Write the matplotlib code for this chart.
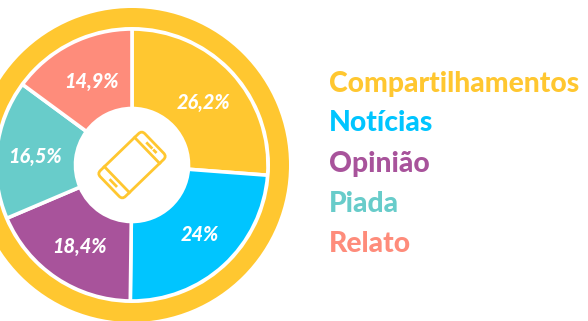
import matplotlib
matplotlib.use("Agg")
import matplotlib.pyplot as plt
import matplotlib.transforms as mtrans
from matplotlib.patches import Wedge, FancyBboxPatch
import numpy as np

categories = ["Compartilhamentos", "Notícias", "Opinião", "Piada", "Relato"]
values = [26.2, 24, 18.4, 16.5, 14.9]
labels = ["26,2%", "24%", "18,4%", "16,5%", "14,9%"]
colors = ["#FFC730", "#00C5FF", "#A8539B", "#68CCCA", "#FE8C7B"]

W, H = 588, 321
cx, cy = 132, H - 165  # pie centre, axes are in pixels
YELLOW = colors[0]

fig = plt.figure(figsize=(W / 100, H / 100), dpi=100)
ax = fig.add_axes([0, 0, 1, 1])

wedges, _ = ax.pie(values, colors=colors, startangle=90, counterclock=False,
                   center=(cx, cy), radius=136, frame=True,
                   wedgeprops=dict(width=79.5, edgecolor="white", linewidth=2.6))

# outer ring
ax.add_patch(Wedge((cx, cy), 157, 0, 360, width=19, facecolor=YELLOW, edgecolor="none"))

# percent labels sit on the middle of each slice, nudged by eye
nudge = [(0, -3), (2, 2), (1, -1), (-1, -3), (3, -3)]
for w, lab, (dx, dy) in zip(wedges, labels, nudge):
    ang = np.deg2rad((w.theta1 + w.theta2) / 2)
    ax.text(cx + 97 * np.cos(ang) + dx, cy + 97 * np.sin(ang) + dy, lab,
            color="white", fontsize=14.3, fontweight="black", fontstyle="italic",
            family="Lato", ha="center", va="center")

# phone icon, drawn upright then turned
rot = mtrans.Affine2D().rotate_deg_around(cx, cy, -46) + ax.transData
lw = 2.0
ax.add_patch(FancyBboxPatch((cx - 18, cy - 31), 36, 62, boxstyle="round,pad=0,rounding_size=4.5",
                            facecolor="none", edgecolor=YELLOW, linewidth=lw, transform=rot))
ax.plot([cx - 18, cx + 18], [cy + 21, cy + 21], color=YELLOW, lw=lw, transform=rot)
ax.plot([cx - 18, cx + 18], [cy - 21, cy - 21], color=YELLOW, lw=lw, transform=rot)
ax.plot([cx - 5, cx + 1], [cy + 26, cy + 26], color=YELLOW, lw=lw, transform=rot)
ax.plot([cx + 5, cx + 7], [cy + 26, cy + 26], color=YELLOW, lw=lw, transform=rot)
ax.plot([cx - 4, cx + 4], [cy - 26, cy - 26], color=YELLOW, lw=lw, transform=rot)

# legend is just coloured words
legend_y = [84, 123, 164, 204, 244]
for name, col, py in zip(categories, colors, legend_y):
    ax.text(329, H - py, name, color=col, fontsize=20.3, fontweight="black",
            family="Lato", ha="left", va="center")

ax.set_xlim(0, W)
ax.set_ylim(0, H)
ax.set_aspect("equal")
ax.axis("off")

fig.savefig("out.png", dpi=100, facecolor="white")
